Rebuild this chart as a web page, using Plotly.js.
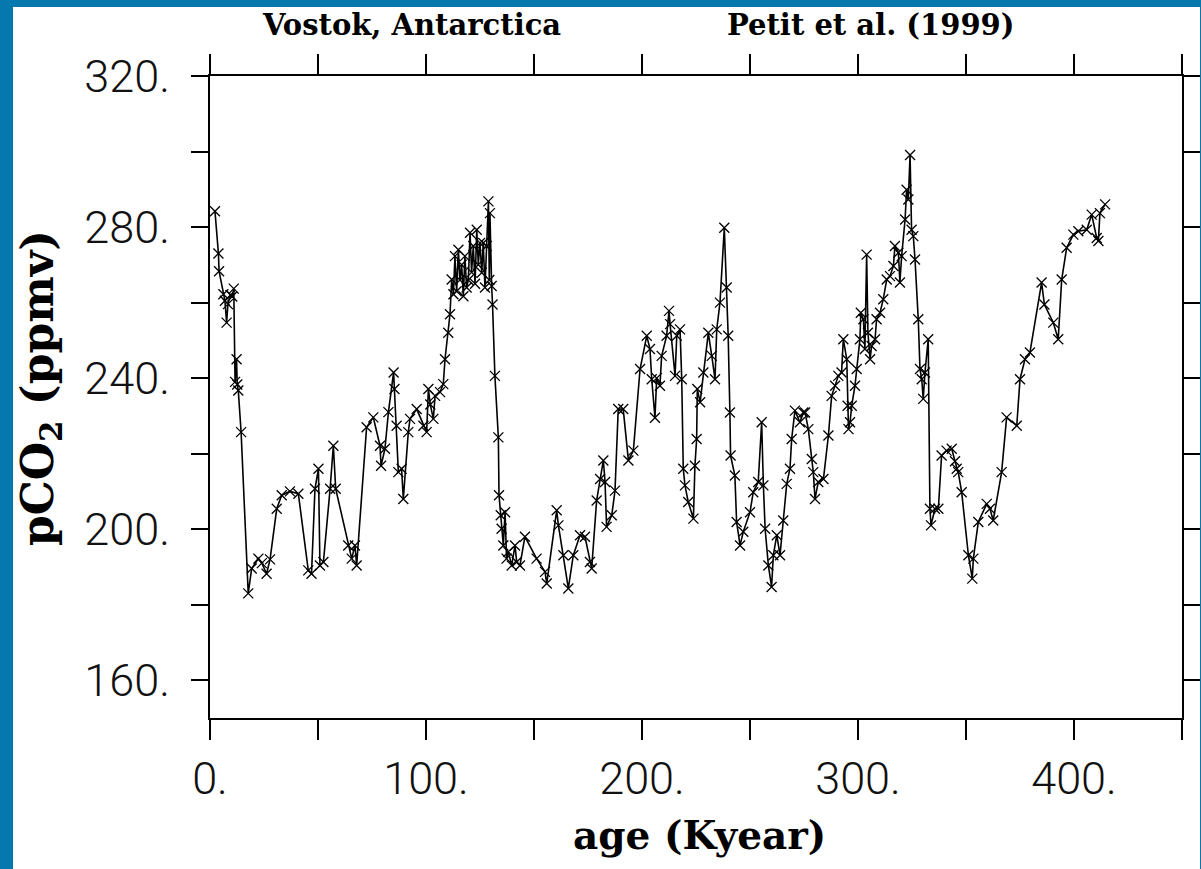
<!DOCTYPE html>
<html>
<head>
<meta charset="utf-8">
<script src="https://cdn.plot.ly/plotly-3.0.1.min.js"></script>
<style>
  html, body { margin: 0; padding: 0; background: #0579ad; width: 1201px; height: 869px; overflow: hidden; }
  #chart { position: absolute; left: 13px; top: 7px; width: 1187px; height: 862px; background: #ffffff; }
</style>
</head>
<body>
<div id="chart"></div>
<script>
// Vostok CO2 record (age in kyr, pCO2 in ppmv)
const ageKyr = [
  2.3, 3.9, 4.2, 6.2, 6.9, 7.7, 8.3, 9.5, 10.3, 11.0, 11.6, 12.3, 12.6, 13.1, 14.4,
  17.7, 19.3, 22.4, 24.0, 26.2, 27.8, 30.9, 33.2, 37.0, 40.9, 45.5, 47.0, 48.6, 50.2,
  50.9, 52.5, 55.6, 57.1, 58.2, 64.0, 65.6, 67.1, 67.9,
  72.5, 75.6, 78.7, 79.2, 81.0, 82.6, 85.0, 85.4, 86.4, 87.2, 88.7, 89.5, 91.8, 92.6,
  95.7, 98.8, 100.3, 101.1, 102.0, 103.4, 104.2, 106.5, 108.0, 108.8, 110.3, 111.1,
  111.9, 112.7, 113.4, 114.2, 115.0, 115.7, 116.5, 117.3, 118.0, 118.8, 119.6, 120.4,
  121.1, 121.9, 122.7, 123.5, 124.2, 125.0, 125.8, 126.5, 127.3, 128.1, 128.9, 129.3,
  129.6, 130.4, 130.8, 131.9, 133.5, 133.8, 134.6, 135.0, 135.8, 136.6, 137.3, 138.1,
  139.7, 141.2, 142.0, 143.5, 145.8, 151.2, 155.1, 155.9, 160.5, 161.3, 163.6, 165.9,
  168.2, 171.3, 173.6, 175.9, 176.7, 179.0, 180.6, 182.1, 182.9, 183.6, 186.0, 187.5,
  189.0, 191.3, 193.7, 196.0, 199.1, 202.2, 203.7, 204.5, 206.0, 206.8, 208.3, 209.1,
  211.4, 212.5, 213.0, 215.3, 216.1, 217.6, 218.4, 219.1, 219.9, 221.4, 223.8, 224.5,
  225.3, 225.6, 226.9, 228.4, 230.7, 232.3, 233.8, 234.6, 236.1, 238.1, 239.2, 239.9,
  240.7, 241.0, 243.0, 243.8, 245.4, 246.9, 250.0, 251.5, 253.8, 255.4, 256.2, 257.0,
  258.5, 260.0, 260.8, 262.4, 263.9, 265.4, 267.0, 268.5, 269.3, 270.8, 273.1, 274.7,
  275.5, 277.0, 278.6, 279.3, 280.1, 281.6, 284.0, 286.3, 287.8, 289.4, 290.9, 292.4,
  293.2, 294.8, 295.2, 295.6, 296.3, 297.1, 298.6, 299.4, 300.9, 301.3, 302.5, 303.2,
  304.0, 304.6, 305.6, 306.3, 307.9, 308.6, 310.2, 311.7, 313.3, 314.8, 316.4, 317.1,
  318.7, 319.4, 320.2, 321.8, 322.5, 323.3, 324.1, 324.8, 325.6, 326.4, 327.9, 328.7,
  329.5, 330.2, 331.0, 332.5, 333.3, 333.8, 335.6, 337.2, 338.7, 341.0, 343.4, 344.9,
  345.7, 346.4, 348.0, 351.1, 352.9, 353.4, 355.7, 359.6, 361.1, 362.6, 366.5, 368.8,
  373.5, 375.0, 377.3, 379.6, 385.0, 386.3, 390.4, 392.7, 394.3, 396.6, 399.7, 402.0,
  405.9, 408.2, 410.5, 411.3, 412.0, 414.4
];
const co2Ppmv = [
  284.2, 273.0, 268.3, 262.2, 260.5, 254.7, 259.6, 262.0, 261.6, 263.7, 239.0, 245.0, 238.3, 236.7, 225.7,
  183.0, 189.6, 192.2, 191.0, 188.2, 192.0, 205.4, 209.0, 210.0, 209.4, 189.1, 188.2, 210.7, 216.0,
  190.4, 191.3, 210.7, 222.1, 210.7, 195.7, 192.2, 195.7, 190.4,
  227.0, 229.6, 222.1, 216.8, 221.3, 231.0, 241.5, 237.1, 227.4, 215.1, 216.0, 208.0, 225.7, 229.2,
  231.8, 227.4, 225.7, 237.1, 233.0, 229.2, 235.3, 236.3, 238.4, 245.0, 252.0, 256.9,
  266.1, 262.2, 272.3, 263.0, 274.0, 266.0, 270.0, 261.7, 272.3, 264.0, 266.0, 278.5,
  268.0, 275.0, 265.0, 279.3, 270.0, 275.8, 267.9, 275.8, 264.0, 275.0, 286.8, 266.0,
  283.7, 264.4, 259.5, 240.6, 224.3, 209.0, 203.7, 200.1, 195.7, 204.5, 192.2, 194.0,
  190.4, 195.7, 191.3, 190.4, 198.0, 192.2, 188.7, 185.6, 205.0, 201.0, 193.1, 184.3,
  193.1, 198.4, 198.0, 191.3, 189.6, 207.6, 213.3, 218.2, 212.5, 200.6, 203.7, 210.2,
  231.8, 231.8, 218.2, 220.8, 242.4, 251.2, 247.7, 239.7, 229.5, 240.0, 238.0, 245.9,
  251.2, 257.8, 254.3, 240.6, 251.2, 252.9, 239.7, 216.0, 211.6, 207.2, 202.8, 216.8,
  223.9, 237.1, 233.6, 241.5, 252.0, 245.9, 239.7, 252.9, 260.0, 279.8, 264.0, 251.2,
  230.9, 219.5, 214.2, 201.9, 195.7, 199.3, 204.5, 209.8, 212.5, 228.3, 211.6, 200.1,
  190.4, 184.7, 193.1, 198.4, 193.1, 202.3, 212.0, 216.0, 223.9, 231.4, 228.3, 230.9,
  230.9, 226.5, 218.6, 215.1, 208.0, 212.5, 213.3, 224.8, 235.3, 238.0, 240.6, 241.5,
  250.3, 245.0, 232.7, 226.5, 228.3, 232.7, 238.0, 242.4, 250.3, 257.3, 255.6, 247.7,
  272.7, 252.0, 245.0, 248.5, 250.3, 255.6, 257.3, 260.9, 266.1, 267.0, 269.7, 275.0,
  273.2, 265.3, 272.3, 282.0, 289.9, 287.3, 299.1, 279.3, 277.6, 271.4, 255.6, 242.4,
  239.7, 234.5, 241.5, 250.3, 205.4, 201.0, 205.4, 205.4, 219.5, 220.8, 221.3, 218.0,
  216.0, 215.1, 209.8, 193.1, 186.9, 192.2, 201.9, 206.7, 205.4, 202.3, 215.1, 229.6,
  227.4, 239.7, 245.0, 246.8, 265.3, 259.5, 254.7, 250.3, 266.1, 274.5, 278.0, 278.9,
  279.3, 283.3, 277.1, 276.3, 283.7, 286.0
];
// labelled ticks
const xTickVals = [0, 100, 200, 300, 400];
const xTickText = ['0.', '100.', '200.', '300.', '400.'];
const yTickVals = [160, 200, 240, 280, 320];
const yTickText = ['160.', '200.', '240.', '280.', '320.'];
// unlabelled ticks
const xMinorVals = [50, 150, 250, 350, 450];
const yMinorVals = [180, 220, 260, 300];

const tickFont = { family: 'Roboto, "Liberation Sans", sans-serif', size: 45, color: '#111111', weight: 300 };
const serifBold = '"DejaVu Serif", "Liberation Serif", serif';

const trace = {
  x: ageKyr,
  y: co2Ppmv,
  type: 'scatter',
  mode: 'lines+markers',
  line: { color: '#000000', width: 1.6 },
  marker: { symbol: 'x-thin', size: 10, color: '#000000', line: { color: '#000000', width: 1.3 } },
  hoverinfo: 'x+y'
};

const layout = {
  width: 1187,
  height: 862,
  paper_bgcolor: '#ffffff',
  plot_bgcolor: '#ffffff',
  showlegend: false,
  margin: { l: 197, r: 18, t: 69, b: 151, pad: 0 },
  xaxis: {
    range: [0, 450],
    tickmode: 'array',
    tickvals: xTickVals,
    ticktext: xTickText,
    ticks: 'outside',
    ticklen: 20,
    tickwidth: 2,
    tickcolor: '#000000',
    minor: { tickmode: 'array', tickvals: xMinorVals, ticks: 'outside', ticklen: 20, tickwidth: 2, tickcolor: '#000000', showgrid: false },
    showline: true,
    linecolor: '#000000',
    linewidth: 2,
    mirror: 'ticks',
    showgrid: false,
    zeroline: false,
    tickfont: tickFont,
    ticklabelstandoff: 0,
    automargin: false
  },
  yaxis: {
    range: [150, 320],
    tickmode: 'array',
    tickvals: yTickVals,
    ticktext: yTickText,
    ticks: 'outside',
    ticklen: 17,
    tickwidth: 2,
    tickcolor: '#000000',
    minor: { tickmode: 'array', tickvals: yMinorVals, ticks: 'outside', ticklen: 17, tickwidth: 2, tickcolor: '#000000', showgrid: false },
    showline: true,
    linecolor: '#000000',
    linewidth: 2,
    mirror: 'ticks',
    showgrid: false,
    zeroline: false,
    tickfont: tickFont,
    ticklabelstandoff: 12,
    automargin: false
  },
  annotations: [
    { text: 'Vostok, Antarctica', xref: 'paper', yref: 'paper', x: 0.2078, y: 1.0794,
      xanchor: 'center', yanchor: 'middle', showarrow: false,
      font: { family: serifBold, size: 29, color: '#000000', weight: 'bold' } },
    { text: 'Petit et al. (1999)', xref: 'paper', yref: 'paper', x: 0.680, y: 1.0794,
      xanchor: 'center', yanchor: 'middle', showarrow: false,
      font: { family: serifBold, size: 29, color: '#000000', weight: 'bold' } },
    { text: 'age (Kyear)', xref: 'paper', yref: 'paper', x: 0.504, y: -0.182,
      xanchor: 'center', yanchor: 'middle', showarrow: false,
      font: { family: serifBold, size: 39, color: '#000000', weight: 'bold' } },
    { text: 'pCO<sub>2</sub> (ppmv)', xref: 'paper', yref: 'paper', x: -0.1749, y: 0.514,
      xanchor: 'center', yanchor: 'middle', showarrow: false, textangle: -90,
      font: { family: serifBold, size: 44, color: '#000000', weight: 'bold' } }
  ]
};

Plotly.newPlot('chart', [trace], layout, { displayModeBar: false, staticPlot: true });
</script>
</body>
</html>
